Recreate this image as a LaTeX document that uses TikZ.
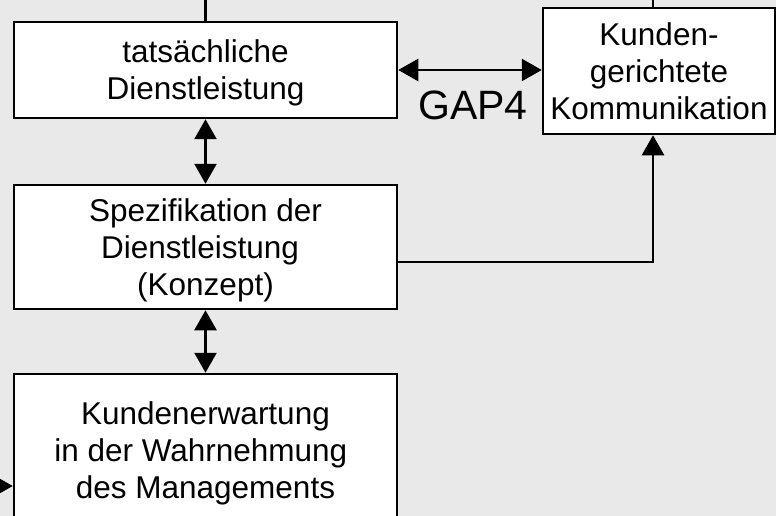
\documentclass[tikz,border=0pt]{standalone}
\usepackage{fontspec}
\setmainfont{Liberation Sans}
\usetikzlibrary{arrows.meta,positioning}
\definecolor{bggray}{RGB}{233,233,233}
\tikzset{
    box/.style={
                draw=black,
                line width=2.5pt,
                fill=white,
                align=center,
                inner sep=0pt,
                text depth=0pt,
                font=\fontsize{31.5}{37}\selectfont
            },
        link/.style={
                line width=2.5pt
            },
        oneway/.style={
                -{Triangle[length=20pt,width=22pt]}
            },
        twoway/.style={
                {Triangle[length=20pt,width=22pt]}-{Triangle[length=20pt,width=22pt]}
            },
        gaplabel/.style={
                anchor=base,
                inner sep=0pt,
                font=\fontsize{41}{41}\selectfont
            },
}

\begin{document}
\begin{tikzpicture}[x=1pt,y=-1pt]
  \useasboundingbox (0,0) rectangle (776,516);
  \clip (0,0) rectangle (776,516);
  \fill[bggray] (0,0) rectangle (776,516);
  % Boxes
  \node[box,minimum width=383pt,minimum height=96pt] (dienst) at (205.5,70) {tatsächliche\\Dienstleistung};
  \node[box,minimum width=232pt,minimum height=126pt] (komm) at (659,71) {Kunden-\\gerichtete\\Kommunikation};
  \node[box,minimum width=383pt,minimum height=124pt] (spez) at (205.5,247) {Spezifikation der\\Dienstleistung\rule{0.35em}{0pt}\\(Konzept)};
  \node[box,minimum width=383pt,minimum height=152pt] (erwart) at (205.5,450) {Kundenerwartung\\in der Wahrnehmung\rule{0.3em}{0pt}\\des Managements};
  % Label
  \node[gaplabel] (gap) at (473,120) {GAP4};
  % Connectors
  \coordinate (kx) at (653,0);
  \draw[link,twoway] (dienst.east) -- (komm.west |- dienst.east);
  \draw[link,twoway] (dienst.south) -- (spez.north);
  \draw[link,twoway] (spez.south) -- (erwart.north);
  \draw[link,oneway] ([yshift=-15pt]spez.east) -| (komm.south -| kx);
  \draw[link] (dienst.north) -- ++(0,-30);
  \draw[link] (komm.north -| kx) -- ++(0,-30);
  \draw[link,oneway] ([xshift=-40pt,yshift=-36pt]erwart.west) -- ([yshift=-36pt]erwart.west);
\end{tikzpicture}
\end{document}
